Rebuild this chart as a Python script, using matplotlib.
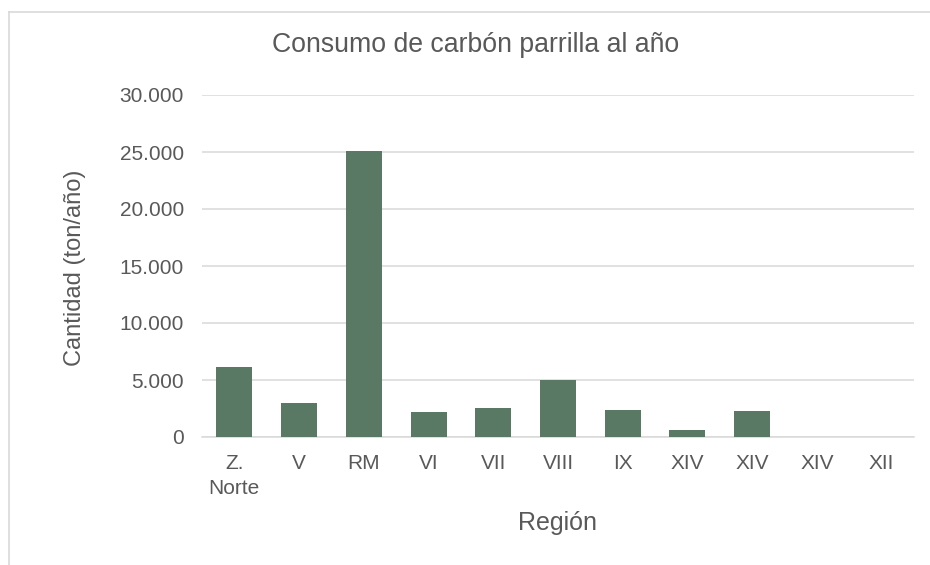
"""Consumo de carbón parrilla al año - bar chart by region."""

import matplotlib

matplotlib.use("Agg")
import matplotlib.pyplot as plt
from matplotlib.lines import Line2D
from matplotlib.ticker import FuncFormatter

regions = ["Z.\nNorte", "V", "RM", "VI", "VII", "VIII", "IX", "XIV", "XIV", "XIV", "XII"]
consumption = [6180, 2950, 25050, 2220, 2530, 5040, 2350, 590, 2270, 20, 30]
y_ticks = [0, 5000, 10000, 15000, 20000, 25000, 30000]

TEXT = "#595959"
GRID = "#d9d9d9"
BAR = "#5a7964"


def thousands(value, _pos):
    """Format with a dot as thousands separator."""
    return f"{int(value):,}".replace(",", ".")


def main() -> None:
    plt.rcParams["font.family"] = ["Liberation Sans", "DejaVu Sans"]

    fig = plt.figure(figsize=(9.3, 5.65), dpi=100)
    ax = fig.add_axes([202 / 930, 1 - 437 / 565, 712 / 930, 342 / 565])

    positions = range(len(regions))
    ax.bar(positions, consumption, width=0.556, color=BAR, zorder=3)

    ax.set_xlim(-0.5, len(regions) - 0.5)
    ax.set_ylim(0, 30000)
    ax.set_yticks(y_ticks)
    ax.yaxis.set_major_formatter(FuncFormatter(thousands))
    ax.set_xticks(list(positions))
    ax.set_xticklabels(regions, linespacing=1.45)

    ax.grid(axis="y", color=GRID, linewidth=1.1, zorder=0)
    for side in ("top", "right", "left"):
        ax.spines[side].set_visible(False)
    ax.spines["bottom"].set_color(GRID)
    ax.spines["bottom"].set_linewidth(1.1)
    ax.tick_params(axis="both", length=0, labelsize=15, colors=TEXT)
    ax.tick_params(axis="y", pad=13)
    ax.tick_params(axis="x", pad=12)

    fig.text(476 / 930, 1 - 45 / 565, "Consumo de carbón parrilla al año",
             ha="center", va="center", fontsize=19.2, color=TEXT)
    fig.text(557 / 930, 1 - 523 / 565, "Región",
             ha="center", va="center", fontsize=18, color=TEXT)
    fig.text(75 / 930, 1 - 268 / 565, "Cantidad (ton/año)", rotation=90,
             ha="center", va="center", fontsize=17, color=TEXT)

    # chart area border (cropped on the right and bottom)
    fig.add_artist(Line2D([9 / 930, 1], [1 - 11.5 / 565] * 2, color=GRID, linewidth=1.2))
    fig.add_artist(Line2D([9 / 930] * 2, [0, 1 - 11.5 / 565], color=GRID, linewidth=1.2))

    fig.savefig("out.png", dpi=100)
    plt.close(fig)


if __name__ == "__main__":
    main()
